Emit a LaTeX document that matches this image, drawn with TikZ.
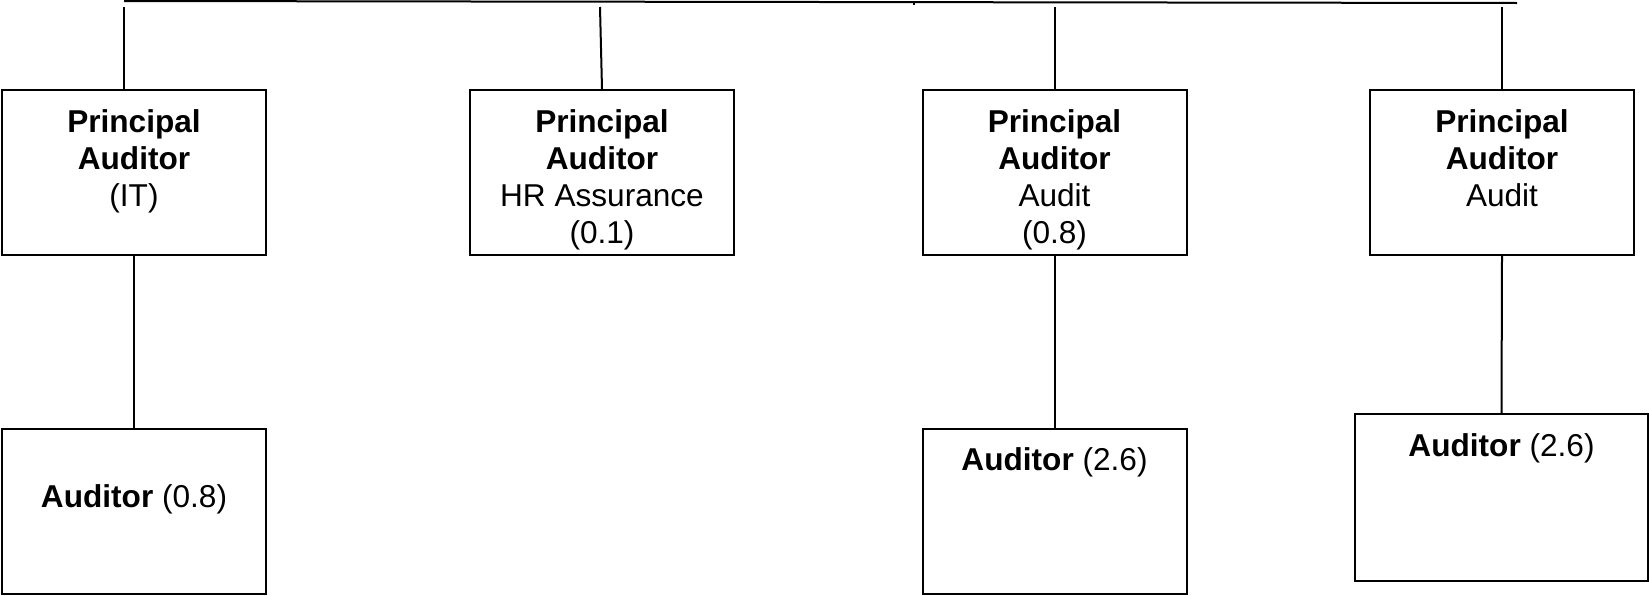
\documentclass[tikz,border=0pt]{standalone}
\usepackage{fontspec}
\setmainfont{Liberation Sans}
\usetikzlibrary{positioning,calc}
\definecolor{linecolor}{RGB}{0, 0, 0}
\definecolor{labelcolor}{RGB}{0, 0, 0}
\tikzset{
postbox/.style={
  draw=linecolor,
  line width=1pt,
  rectangle,
  inner sep=0pt,
  minimum width=132pt,
  minimum height=82.5pt
},
posttext/.style={
  anchor=north,
  align=center,
  inner sep=0pt,
  text=labelcolor,
  font=\fontsize{15.8}{18.5}\selectfont
},
link/.style={
  draw=linecolor,
  line width=1pt
}
}

\begin{document}
\begin{tikzpicture}[
    x=0.5pt, y=-0.5pt,
    % Estilos das caixas
    widebox/.style={postbox, minimum width=146.5pt, minimum height=83.5pt},
]
\useasboundingbox (0,0) rectangle (1649,595);

% ============================================================================
% PRINCIPAL AUDITORS
% ============================================================================
\node[postbox] (pa1) at (134,172.5) {};
\node[posttext] (pa1text) at ($(pa1.north)+(0,20)$) {\textbf{Principal}\\\textbf{Auditor}\\(IT)};

\node[postbox] (pa2) at (602,172.5) {};
\node[posttext] (pa2text) at ($(pa2.north)+(0,20)$) {\textbf{Principal}\\\textbf{Auditor}\\HR Assurance\\(0.1)};

\node[postbox] (pa3) at (1054.5,172.5) {};
\node[posttext] (pa3text) at ($(pa3.north)+(0,20)$) {\textbf{Principal}\\\textbf{Auditor}\\Audit\\(0.8)};

\node[postbox] (pa4) at (1502,172.5) {};
\node[posttext] (pa4text) at ($(pa4.north)+(0,20)$) {\textbf{Principal}\\\textbf{Auditor}\\Audit};

% ============================================================================
% AUDITORS
% ============================================================================
\node[postbox] (au1) at (134,511) {};
\node[posttext] (au1text) at ($(au1.north)+(0,57)$) {\textbf{Auditor} (0.8)};

\node[postbox] (au3) at (1054.5,511) {};
\node[posttext] (au3text) at ($(au3.north)+(0,20)$) {\textbf{Auditor} (2.6)};

\node[widebox] (au4) at (1501.5,497.5) {};
\node[posttext] (au4text) at ($(au4.north)+(0,20)$) {\textbf{Auditor} (2.6)};

% ============================================================================
% LINHAS
% ============================================================================
\coordinate (topL) at (124,1);
\coordinate (topR) at (1517,3);
\coordinate (tick) at (914,2);
\coordinate (up1) at (124,7);
\coordinate (up2) at (600,7);
\coordinate (up3) at (1054.5,7);
\coordinate (up4) at (1502,7);

\draw[link] (topL) -- (topR);
\draw[link] (tick) -- ++(0,3);

% Top line -> Principal Auditors
\draw[link] (up1) -- (up1 |- pa1.north);
\draw[link] (up2) -- (pa2.north);
\draw[link] (up3) -- (pa3.north);
\draw[link] (up4) -- (pa4.north);

% Principal Auditors -> Auditors
\draw[link] (pa1.south) -- (au1.north);
\draw[link] (pa3.south) -- (au3.north);
\draw[link] (pa4.south) -- (au4.north);

\end{tikzpicture}
\end{document}
